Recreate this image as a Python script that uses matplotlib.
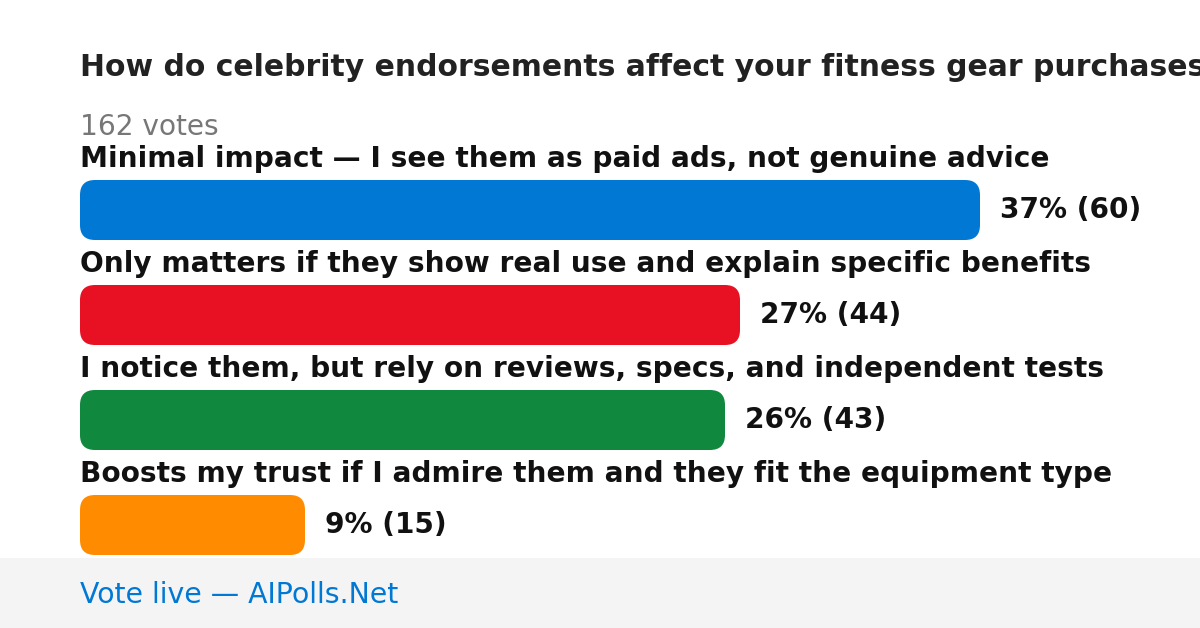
import matplotlib
matplotlib.use("Agg")
import matplotlib.pyplot as plt
from matplotlib.patches import FancyBboxPatch, Rectangle

plt.rcParams["font.family"] = ["DejaVu Sans"]

title = "How do celebrity endorsements affect your fitness gear purchases?"
total_label = "162 votes"
categories = [
    "Minimal impact — I see them as paid ads, not genuine advice",
    "Only matters if they show real use and explain specific benefits",
    "I notice them, but rely on reviews, specs, and independent tests",
    "Boosts my trust if I admire them and they fit the equipment type",
]
votes = [60, 44, 43, 15]
percents = [37, 27, 26, 9]
colors = ["#0078D4", "#E81123", "#10893E", "#FF8C00"]
footer = "Vote live — AIPolls.Net"

W, H = 1200, 628
fig = plt.figure(figsize=(W / 100, H / 100), dpi=100)
ax = fig.add_axes([0, 0, 1, 1])
ax.set_xlim(0, W)
ax.set_ylim(H, 0)
ax.axis("off")

left = 80
px_per_vote = 900 / max(votes)
row0 = 159
spacing = 105
bar_h = 60
fs = 20.2

ax.text(left, 68, title, fontsize=21.5, fontweight="bold", color="#222222",
        va="center", ha="left")
ax.text(left, 127, total_label, fontsize=fs, color="#777777", va="center", ha="left")

for i, (cat, v, p, c) in enumerate(zip(categories, votes, percents, colors)):
    ly = row0 + i * spacing
    ax.text(left, ly, cat, fontsize=fs, fontweight="bold", color="#111111",
            va="center", ha="left")
    top = ly + 21
    w = v * px_per_vote
    ax.add_patch(FancyBboxPatch((left, top), w, bar_h,
                                boxstyle="round,pad=0,rounding_size=15",
                                facecolor=c, edgecolor="none"))
    ax.text(left + w + 20, top + bar_h / 2, f"{p}% ({v})", fontsize=fs,
            fontweight="bold", color="#111111", va="center", ha="left")

ax.add_patch(Rectangle((0, 558), W, H - 558, facecolor="#f4f4f4", edgecolor="none"))
ax.text(left, 595, footer, fontsize=20.4, color="#0078D4", va="center", ha="left")

fig.savefig("out.png", dpi=100, facecolor="white")
